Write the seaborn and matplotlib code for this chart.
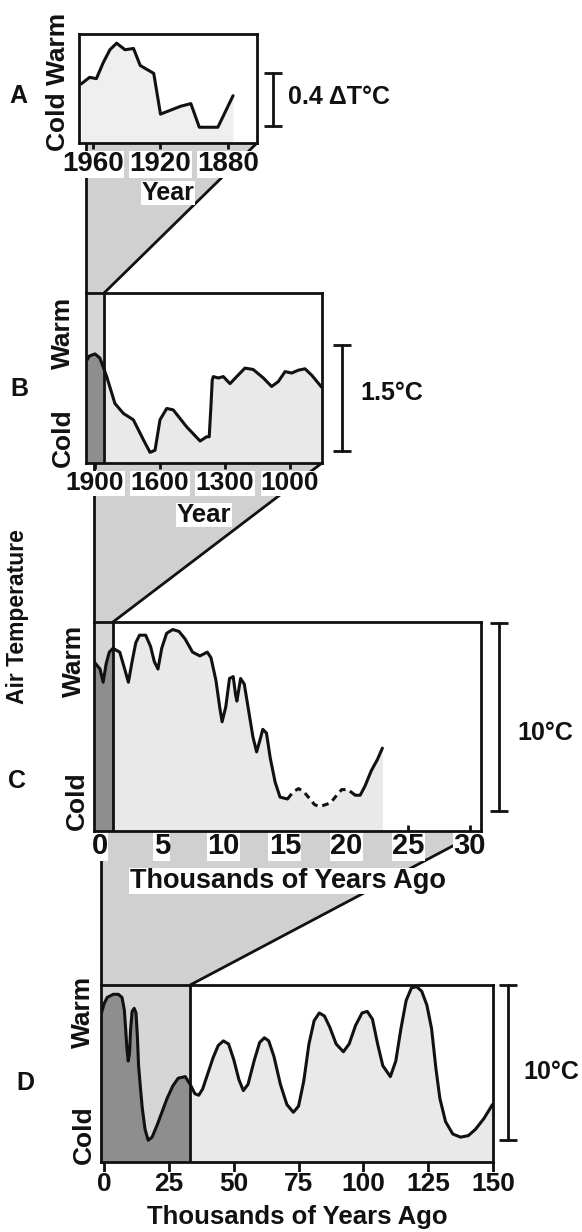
import numpy as np
import pandas as pd
import matplotlib
matplotlib.use("Agg")
import matplotlib.pyplot as plt
import matplotlib.transforms as mtransforms
from matplotlib.patches import Polygon, Rectangle
from matplotlib.lines import Line2D
import seaborn as sns

# A: last ~100 years (year, deg C above panel floor)
years_a = [1967, 1962, 1958, 1954, 1950, 1946, 1941, 1936, 1932, 1924,
           1920, 1908, 1902, 1897, 1886, 1877]
temp_a = [0.45, 0.50, 0.49, 0.61, 0.71, 0.76, 0.71, 0.72, 0.59, 0.53,
          0.22, 0.28, 0.30, 0.12, 0.12, 0.36]

# B: last ~1000 years
years_b = [1938, 1926, 1900, 1877, 1846, 1808, 1769, 1723, 1677, 1646,
           1623, 1600, 1569, 1539, 1477, 1415, 1385, 1373, 1365, 1359,
           1354, 1331, 1308, 1277, 1246, 1208, 1170, 1123, 1085, 1054,
           1023, 992, 962, 931, 900, 854]
temp_b = [1.45, 1.51, 1.54, 1.48, 1.22, 0.84, 0.70, 0.61, 0.33, 0.15,
          0.18, 0.61, 0.77, 0.75, 0.51, 0.31, 0.37, 0.37, 0.80, 1.17,
          1.22, 1.20, 1.22, 1.12, 1.22, 1.34, 1.32, 1.20, 1.08, 1.15,
          1.29, 1.27, 1.31, 1.33, 1.24, 1.07]

# C: last ~25 000 years (thousands of years ago)
kyr_c = [-0.5, 0.0, 0.25, 0.5, 0.75, 1.05, 1.6, 2.0, 2.3, 2.6,
         2.9, 3.2, 3.7, 4.1, 4.4, 4.7, 5.0, 5.4, 5.9, 6.4,
         6.9, 7.5, 8.1, 8.7, 9.0, 9.4, 9.7, 9.9, 10.2, 10.5,
         10.8, 11.0, 11.1, 11.2, 11.4, 11.7, 12.0, 12.4, 12.7, 13.0,
         13.2, 13.5, 13.8, 14.2, 14.6, 15.2, 15.7, 16.1, 16.5, 16.9,
         17.4, 17.8, 18.3, 18.7, 19.2, 19.6, 20.1, 20.7, 21.1, 21.5,
         22.0, 22.5, 22.9]
temp_c = [9.0, 8.6, 7.9, 8.9, 9.5, 9.7, 9.5, 8.6, 7.9, 9.0,
          10.0, 10.4, 10.4, 9.8, 9.0, 8.6, 9.7, 10.5, 10.7, 10.6,
          10.2, 9.5, 9.3, 9.5, 9.2, 8.0, 6.6, 5.8, 6.6, 8.1,
          8.2, 7.2, 6.9, 7.3, 8.1, 7.8, 6.6, 5.0, 4.2, 4.9,
          5.4, 5.2, 3.9, 2.6, 1.8, 1.7, 2.1, 2.25, 2.1, 1.8,
          1.4, 1.3, 1.4, 1.5, 1.9, 2.2, 2.2, 1.9, 1.9, 2.4,
          3.2, 3.8, 4.4]
dash_from, dash_to = 15.2, 20.7

# D: last 150 000 years
kyr_d = [-1.0, 0.0, 1.2, 3.5, 5.5, 6.9, 7.8, 8.3, 8.8, 9.3,
         9.8, 10.2, 10.8, 11.6, 12.3, 12.8, 13.3, 14.0, 14.7, 15.8,
         17.0, 18.5, 20.5, 22.5, 24.3, 26.5, 28.6, 31.3, 33.2, 35.0,
         36.5, 38.0, 39.8, 42.0, 44.0, 46.0, 48.0, 50.0, 52.0, 53.7,
         55.5, 58.0, 60.0, 61.8, 63.5, 65.5, 68.0, 70.5, 73.0, 75.0,
         77.0, 79.0, 81.0, 83.0, 85.0, 87.0, 89.5, 92.3, 94.5, 97.0,
         99.5, 101.5, 103.5, 105.5, 107.5, 110.4, 112.5, 114.5, 116.5, 118.5,
         120.5, 122.5, 124.5, 126.3, 128.0, 129.5, 131.7, 134.5, 137.5, 140.5,
         143.2, 146.5, 149.8]
temp_d = [9.6, 10.2, 10.6, 10.8, 10.8, 10.6, 9.8, 8.6, 7.3, 6.5,
          7.0, 8.5, 9.7, 9.9, 9.6, 8.2, 6.2, 4.8, 3.5, 2.1,
          1.4, 1.6, 2.4, 3.3, 4.1, 4.9, 5.4, 5.5, 5.0, 4.4,
          4.3, 4.7, 5.6, 6.7, 7.5, 7.8, 7.6, 6.6, 5.3, 4.6,
          5.0, 6.6, 7.7, 8.0, 7.8, 6.8, 5.0, 3.7, 3.2, 3.6,
          5.2, 7.6, 9.1, 9.6, 9.4, 8.7, 7.6, 7.1, 7.6, 8.8,
          9.6, 9.7, 9.2, 7.6, 6.2, 5.5, 6.5, 8.6, 10.4, 11.2,
          11.3, 11.0, 10.1, 8.6, 6.0, 4.1, 2.6, 1.8, 1.6, 1.7,
          2.1, 2.8, 3.7]

ticks_a = [1960, 1920, 1880]
ticks_b = [1900, 1600, 1300, 1000]
ticks_c = [0, 5, 10, 15, 20, 25, 30]
ticks_d = [0, 25, 50, 75, 100, 125, 150]

sns.set_style("ticks")
plt.rcParams["font.family"] = ["Liberation Sans", "DejaVu Sans"]
plt.rcParams["font.weight"] = "bold"
plt.rcParams["axes.labelweight"] = "bold"

LIGHT = "#e9e9e9"
MID = "#d6d6d6"
DARK = "#8e8e8e"
WEDGE = "#d0d0d0"
INK = "#111111"

W, H = 582, 1232
fig = plt.figure(figsize=(W / 100, H / 100), dpi=100)


def px_box(left, top, right, bottom):
    return [left / W, 1 - bottom / H, (right - left) / W, (bottom - top) / H]


def panel(ax, x, y, xlim, ylim, ticks, tsize, tdir, tlen, tpad, stripe=None,
          fill=LIGHT):
    x = np.asarray(x, float)
    y = np.asarray(y, float)
    ax.set_xlim(*xlim)
    ax.set_ylim(*ylim)
    ax.fill_between(x, 0, y, color=fill, lw=0, zorder=1)
    if stripe is not None:
        ax.axvspan(xlim[0], stripe, color=MID, lw=0, zorder=1.5)
        dark = ax.fill_between(x, 0, y, color=DARK, lw=0, zorder=2)
        clip = Rectangle((xlim[0], ylim[0]), stripe - xlim[0], ylim[1] - ylim[0],
                         transform=ax.transData)
        dark.set_clip_path(clip)
        ax.axvline(stripe, color=INK, lw=2, zorder=3)
    ax.set_xticks(ticks)
    ax.set_xticklabels([str(t) for t in ticks])
    ax.set_yticks([])
    ax.tick_params(axis="x", direction=tdir, length=tlen, width=2, pad=tpad,
                   labelsize=tsize, colors=INK)
    for s in ax.spines.values():
        s.set_linewidth(2)
        s.set_color(INK)
    for t in ax.get_xticklabels():
        t.set_bbox(dict(facecolor="white", edgecolor="none", pad=0.2))
    ax.set_ylabel("")


def scale_bar(ax, xfrac, y0, y1):
    tr = mtransforms.blended_transform_factory(ax.transAxes, ax.transData)
    ax.plot([xfrac, xfrac], [y0, y1], transform=tr, color=INK, lw=2,
            marker="_", ms=13, mew=2, clip_on=False)


def xlabel(ax, text, size, below_px):
    h = ax.get_position().height * H
    ax.set_xlabel(text, fontsize=size, va="center", color=INK,
                  bbox=dict(facecolor="white", edgecolor="none", pad=0.2))
    ax.xaxis.set_label_coords(0.5, -below_px / h)


def curve(ax, x, y, **kw):
    sns.lineplot(x=x, y=y, ax=ax, color=INK, lw=2.2, sort=False,
                 estimator=None, zorder=4, **kw)


# panel A
ax_a = fig.add_axes(px_box(79, 34, 257, 143))
panel(ax_a, years_a, temp_a, (1968.3, 1862.8), (0, 0.83), ticks_a, 20, "out", 4, 2,
      fill="#efefef")
curve(ax_a, years_a, temp_a)
scale_bar(ax_a, 1.09, 0.13, 0.53)
xlabel(ax_a, "Year", 18, 50)

# panel B
ax_b = fig.add_axes(px_box(86, 293, 322, 463))
panel(ax_b, years_b, temp_b, (1941.5, 852.5), (0, 2.40), ticks_b, 19, "out", 4, 2,
      stripe=1858)
curve(ax_b, years_b, temp_b)
scale_bar(ax_b, 1.085, 0.17, 1.67)
xlabel(ax_b, "Year", 18.5, 52)

# panel C
ax_c = fig.add_axes(px_box(94, 622, 481, 831))
panel(ax_c, kyr_c, temp_c, (-0.49, 30.9), (0, 11.1), ticks_c, 21, "in", 4, 1,
      stripe=1.05)
kc = np.asarray(kyr_c)
tc = np.asarray(temp_c)
solid1 = kc <= dash_from
dashed = (kc >= dash_from) & (kc <= dash_to)
solid2 = kc >= dash_to
curve(ax_c, kc[solid1], tc[solid1])
curve(ax_c, kc[dashed], tc[dashed], linestyle=(0, (2.2, 1.6)))
curve(ax_c, kc[solid2], tc[solid2])
scale_bar(ax_c, 1.047, 1.06, 11.06)
xlabel(ax_c, "Thousands of Years Ago", 19.5, 50)

# panel D
ax_d = fig.add_axes(px_box(101, 985, 493, 1162))
panel(ax_d, kyr_d, temp_d, (-1.2, 150), (0, 11.4), ticks_d, 19, "out", 7, 0.5,
      stripe=33.2)
curve(ax_d, kyr_d, temp_d)
scale_bar(ax_d, 1.038, 1.42, 11.42)
xlabel(ax_d, "Thousands of Years Ago", 18.5, 55)

for ax in (ax_a, ax_b, ax_c, ax_d):
    ax.set_ylabel("")


# zoom wedges linking each panel to the shaded stripe of the next
def wedge(prev, nxt, stripe):
    inv = fig.transFigure.inverted()
    corner = prev.transAxes.transform((1, 0))
    top_left = nxt.transAxes.transform((0, 1))
    stripe_top = nxt.transData.transform((stripe, nxt.get_ylim()[1]))
    pts = np.array([[top_left[0], corner[1]], corner, stripe_top, top_left])
    pts = inv.transform(pts)
    fig.add_artist(Polygon(pts, closed=True, facecolor=WEDGE, edgecolor="none",
                           transform=fig.transFigure, zorder=-2))
    for i, j in ((0, 3), (1, 2)):
        fig.add_artist(Line2D([pts[i, 0], pts[j, 0]], [pts[i, 1], pts[j, 1]],
                              color=INK, lw=2, transform=fig.transFigure, zorder=-1))


wedge(ax_a, ax_b, 1858)
wedge(ax_b, ax_c, 1.05)
wedge(ax_c, ax_d, 33.2)


def ftext(x, y, s, size, rot=0, ha="center", **kw):
    fig.text(x / W, 1 - y / H, s, fontsize=size, rotation=rot, ha=ha, va="center",
             color=INK, fontweight="bold", **kw)


ftext(18, 96, "A", 18)
ftext(19, 389, "B", 18)
ftext(17, 781, "C", 18)
ftext(25, 1083, "D", 18)
ftext(18, 617, "Air Temperature", 16.5, rot=90)

ftext(58, 82, "Cold Warm", 19, rot=90)
ftext(63, 333, "Warm", 19, rot=90)
ftext(63, 438, "Cold", 19, rot=90)
ftext(74, 661, "Warm", 19, rot=90)
ftext(77, 801, "Cold", 19, rot=90)
ftext(83, 1012, "Warm", 19, rot=90)
ftext(84, 1135, "Cold", 19, rot=90)

ftext(288, 97, "0.4 \u0394T\u00b0C", 18, ha="left")
ftext(360, 393, "1.5\u00b0C", 18, ha="left")
ftext(517, 733, "10\u00b0C", 18, ha="left")
ftext(523, 1072, "10\u00b0C", 18, ha="left")

fig.savefig("out.png", dpi=100)
